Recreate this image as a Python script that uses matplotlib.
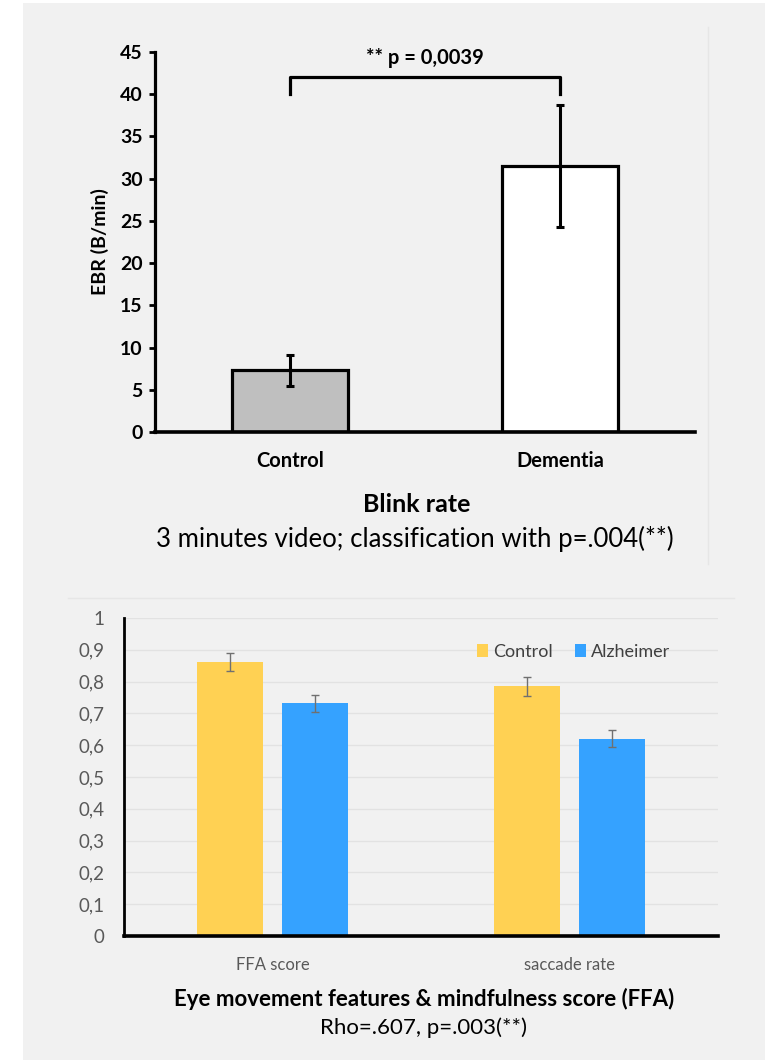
import numpy as np
import matplotlib
matplotlib.use('Agg')
import matplotlib.pyplot as plt
from matplotlib.lines import Line2D
from matplotlib.patches import Rectangle

plt.rcParams['font.family'] = ['Lato', 'DejaVu Sans']

# blink rate panel
groups_ebr = ['Control', 'Dementia']
ebr_mean = [7.3, 31.5]
ebr_err = [1.8, 7.2]
ebr_fill = ['#bfbfbf', '#ffffff']
p_label = '** p = 0,0039'
ebr_ticks = [0, 5, 10, 15, 20, 25, 30, 35, 40, 45]

# eye movement panel
features = ['FFA score', 'saccade rate']
series_names = ['Control', 'Alzheimer']
control_vals = [0.861, 0.785]
control_err = [0.029, 0.030]
alz_vals = [0.732, 0.621]
alz_err = [0.027, 0.027]
eye_ticks = [0, 0.1, 0.2, 0.3, 0.4, 0.5, 0.6, 0.7, 0.8, 0.9, 1]
eye_ticklabels = ['0', '0,1', '0,2', '0,3', '0,4', '0,5', '0,6', '0,7', '0,8', '0,9', '1']

bg = '#f1f1f1'
W, H = 765, 1060
fig = plt.figure(figsize=(W / 100, H / 100), dpi=100, facecolor=bg)

def px(x, y):
    return x / W, 1 - y / H

# white margins on the left and top
fig.patches.append(Rectangle((0, 0), 23 / W, 1, transform=fig.transFigure,
                             facecolor='white', edgecolor='none', zorder=0))
fig.patches.append(Rectangle((0, 1 - 3 / H), 1, 3 / H, transform=fig.transFigure,
                             facecolor='white', edgecolor='none', zorder=0))
# faint frame edges
fig.lines.append(Line2D([708 / W, 708 / W], [1 - 27 / H, 1 - 564 / H],
                        transform=fig.transFigure, color='#e6e6e6', lw=1))
fig.lines.append(Line2D([68 / W, 734 / W], [1 - 598 / H, 1 - 598 / H],
                        transform=fig.transFigure, color='#e6e6e6', lw=1))

# ---- top chart ----
ax1 = fig.add_axes([155 / W, 1 - 432 / H, 540 / W, 380 / H])
ax1.set_facecolor(bg)
x1 = np.arange(len(groups_ebr))
ax1.bar(x1, ebr_mean, width=0.433, color=ebr_fill, edgecolor='black', linewidth=2.3, zorder=2)
ax1.errorbar(x1, ebr_mean, yerr=ebr_err, fmt='none', ecolor='black', elinewidth=2.2,
             capsize=3, capthick=2.2, zorder=3)
ax1.set_xlim(-0.5, 1.5)
ax1.set_ylim(0, 45)
ax1.set_yticks(ebr_ticks)
ax1.set_xticks(x1)
ax1.set_xticklabels(groups_ebr)
for s in ['top', 'right']:
    ax1.spines[s].set_visible(False)
ax1.spines['left'].set_linewidth(2.3)
ax1.spines['bottom'].set_linewidth(2.6)
ax1.tick_params(axis='y', length=4, width=2, labelsize=14, pad=5)
ax1.tick_params(axis='x', length=0, labelsize=14.5, pad=14)
for lab in ax1.get_yticklabels() + ax1.get_xticklabels():
    lab.set_fontweight('bold')
ax1.set_ylabel('EBR (B/min)', fontsize=14, fontweight='bold', labelpad=8)

# significance bracket
ax1.plot([0, 0, 1, 1], [40, 42, 42, 40], color='black', lw=2.3, clip_on=False)
ax1.text(0.5, 44.3, p_label, ha='center', va='center', fontsize=14.5, fontweight='bold')

fig.text(*px(417, 505), 'Blink rate', ha='center', va='center', fontsize=18, fontweight='bold')
fig.text(*px(415, 539), '3 minutes video; classification with p=.004(**)',
         ha='center', va='center', fontsize=18.5)

# ---- bottom chart ----
ax2 = fig.add_axes([124 / W, 1 - 936 / H, 594 / W, 318 / H])
ax2.set_facecolor(bg)
x2 = np.arange(len(features))
bw = 0.222
off = 0.143
ax2.bar(x2 - off, control_vals, width=bw, color='#ffd153', label=series_names[0], zorder=2)
ax2.bar(x2 + off, alz_vals, width=bw, color='#35a2ff', label=series_names[1], zorder=2)
ax2.errorbar(x2 - off, control_vals, yerr=control_err, fmt='none', ecolor='#707070',
             elinewidth=1, capsize=3, capthick=1, zorder=3)
ax2.errorbar(x2 + off, alz_vals, yerr=alz_err, fmt='none', ecolor='#707070',
             elinewidth=1, capsize=3, capthick=1, zorder=3)
ax2.set_xlim(-0.5, 1.5)
ax2.set_ylim(0, 1)
ax2.set_yticks(eye_ticks)
ax2.set_yticklabels(eye_ticklabels)
ax2.set_xticks(x2)
ax2.set_xticklabels(features)
ax2.yaxis.grid(True, color='#e2e2e2', lw=1)
ax2.set_axisbelow(True)
for s in ['top', 'right']:
    ax2.spines[s].set_visible(False)
ax2.spines['left'].set_linewidth(2)
ax2.spines['bottom'].set_linewidth(2.6)
ax2.tick_params(axis='y', length=0, labelsize=13.5, labelcolor='#595959', pad=14)
ax2.tick_params(axis='x', length=0, labelsize=12, labelcolor='#595959', pad=15)
ax2.legend(loc='upper right', bbox_to_anchor=(0.947, 0.97), ncol=2, frameon=False,
           fontsize=13, handlelength=0.6, handleheight=0.7, handletextpad=0.3,
           columnspacing=1.2, labelcolor='#404040')

fig.text(*px(424, 999), 'Eye movement features & mindfulness score (FFA)',
         ha='center', va='center', fontsize=16, fontweight='bold')
fig.text(*px(423, 1028), 'Rho=.607, p=.003(**)', ha='center', va='center', fontsize=16)

fig.savefig('out.png', dpi=100, facecolor=bg)
